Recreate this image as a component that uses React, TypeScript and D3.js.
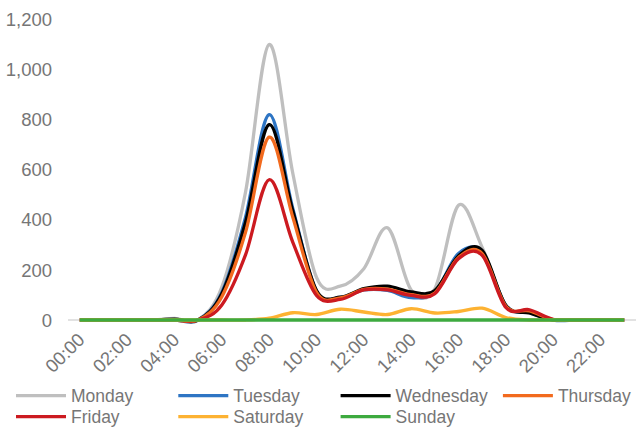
import * as d3 from 'd3';

const hours = d3.range(24).map(h => `${String(h).padStart(2, '0')}:00`);
const tickLabels = hours.filter((_, i) => i % 2 === 0);
const yTicks = [0, 200, 400, 600, 800, 1000, 1200];

const days = ['Monday', 'Tuesday', 'Wednesday', 'Thursday', 'Friday', 'Saturday', 'Sunday'];
const colors = ['#BFBFBF', '#2E75C4', '#000000', '#F26A1E', '#CC1A20', '#FDB232', '#3DAA3F'];

const monday = [0, 0, 0, 0, 6, 0, 131, 510, 1100, 585, 170, 135, 205, 368, 120, 125, 458, 290, 60, 28, 0, 0, 0, 0];
const tuesday = [0, 0, 0, 0, 0, 0, 110, 410, 820, 445, 115, 90, 120, 118, 89, 112, 266, 272, 58, 30, 0, 0, 0, 0];
const wednesday = [0, 0, 0, 0, 3, 0, 105, 390, 780, 435, 118, 91, 125, 135, 112, 118, 256, 278, 58, 28, 0, 0, 0, 0];
const thursday = [0, 0, 0, 0, 0, 0, 93, 350, 730, 410, 110, 88, 122, 123, 101, 108, 250, 265, 55, 36, 2, 0, 0, 0];
const friday = [0, 0, 0, 0, 0, 0, 60, 260, 560, 310, 98, 82, 120, 120, 98, 105, 245, 258, 50, 41, 3, 0, 0, 0];
const saturday = [0, 0, 0, 0, 0, 0, 0, 0, 7, 29, 22, 43, 32, 22, 45, 28, 34, 47, 10, 0, 0, 0, 0, 0];
const sunday = [0, 0, 0, 0, 0, 0, 0, 0, 0, 0, 0, 0, 0, 0, 0, 0, 0, 0, 0, 0, 0, 0, 0, 0];

const seriesValues = [monday, tuesday, wednesday, thursday, friday, saturday, sunday];

const width = 636;
const height = 427;
const font = '"Liberation Sans", Arial, sans-serif';
const textColor = '#767676';

const App = () => {
  const x = d3.scaleBand<string>().domain(hours).range([68, 636]);
  const y = d3.scaleLinear().domain([0, 1200]).range([320, 19.5]);
  const cx = (h: string) => x(h)! + x.bandwidth() / 2;

  // excel-style smoothed lines
  const line = d3
    .line<number>()
    .x((_, i) => cx(hours[i]))
    .y(d => y(d))
    .curve(d3.curveCardinal.tension(0));

  return (
    <svg
      width={width}
      height={height}
      style={{ position: 'absolute', left: 0, top: 0, background: '#fff' }}
      fontFamily={font}
    >
      {yTicks.map(t => (
        <text key={t} x={52} y={y(t)} dy="0.36em" textAnchor="end" fontSize={18.5} fill={textColor}>
          {d3.format(',')(t)}
        </text>
      ))}
      <line x1={68} x2={636} y1={y(0)} y2={y(0)} stroke="#D9D9D9" strokeWidth={1.5} />
      {tickLabels.map(h => (
        <text
          key={h}
          transform={`translate(${cx(h) + 6},${341}) rotate(-45)`}
          textAnchor="end"
          fontSize={18.5}
          fill={textColor}
        >
          {h}
        </text>
      ))}
      {seriesValues.map((vals, k) => (
        <path key={days[k]} d={line(vals)!} fill="none" stroke={colors[k]} strokeWidth={3.3} strokeLinejoin="round" />
      ))}
      {days.map((d, k) => {
        const lx = 16 + (k % 4) * 162.3;
        const ly = 395.7 + Math.floor(k / 4) * 21;
        return (
          <g key={d}>
            <line x1={lx} x2={lx + 50} y1={ly} y2={ly} stroke={colors[k]} strokeWidth={3.3} />
            <text x={lx + 55} y={ly} dy="0.36em" fontSize={17.5} fill={textColor}>
              {d}
            </text>
          </g>
        );
      })}
    </svg>
  );
};

export default App;
